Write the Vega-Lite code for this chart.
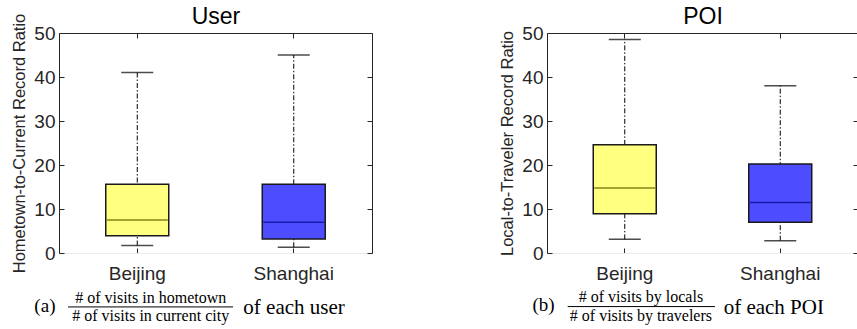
{
  "$schema": "https://vega.github.io/schema/vega-lite/v6.json",
  "padding": {"left": 11, "top": 5, "right": 0, "bottom": 0},
  "autosize": {"type": "pad"},
  "background": "white",
  "config": {
    "view": {"stroke": null},
    "font": "Liberation Sans",
    "axis": {"labelFont": "Liberation Sans", "titleFont": "Liberation Sans", "labelColor": "#262626", "titleColor": "#262626", "grid": false, "domainColor": "#262626", "tickColor": "#262626"}
  },
  "datasets": {
    "user": [
      {"city": "Beijing", "lower": 1.7, "q1": 3.9, "median": 7.5, "q3": 15.6, "upper": 41.0},
      {"city": "Shanghai", "lower": 1.3, "q1": 3.2, "median": 7.0, "q3": 15.6, "upper": 45.0}
    ],
    "poi": [
      {"city": "Beijing", "lower": 3.1, "q1": 8.9, "median": 14.8, "q3": 24.6, "upper": 48.5},
      {"city": "Shanghai", "lower": 2.8, "q1": 7.0, "median": 11.5, "q3": 20.2, "upper": 38.0}
    ]
  },
  "spacing": 126,
  "hconcat": [
    {
      "bounds": "flush",
      "spacing": 38,
      "vconcat": [
        {
          "width": 313, "height": 220,
          "data": {"name": "user"},
          "layer": [
            {
              "mark": {"type": "rule", "color": "black", "strokeWidth": 1, "strokeDash": [5, 2, 1.5, 2]},
              "encoding": {
                "x": {"field": "city", "type": "nominal", "scale": {"domain": ["Beijing", "Shanghai"], "paddingInner": 0, "paddingOuter": 0}, "axis": {"orient": "bottom", "title": null, "labelAngle": 0, "labelFontSize": 19, "tickSize": -5, "labelPadding": 16, "domainColor": "#ebebeb", "tickColor": "#262626"}},
                "y": {"field": "lower", "type": "quantitative", "scale": {"domain": [0, 50]}, "axis": {"orient": "left", "title": "Hometown-to-Current Record Ratio", "titleFontSize": 16.5, "titleFontWeight": "normal", "labelFontSize": 19, "tickSize": -5, "labelPadding": 9, "titlePadding": 6, "values": [0, 10, 20, 30, 40, 50], "domainColor": "#262626"}},
                "y2": {"field": "upper"}
              }
            },
            {
              "mark": {"type": "bar", "size": 63, "stroke": "#1a1a1a", "strokeWidth": 1.5},
              "encoding": {
                "x": {"field": "city", "type": "nominal", "axis": {"orient": "top", "title": "User", "titleFontSize": 23, "titleFontWeight": "normal", "titleColor": "black", "titleBaseline": "alphabetic", "titlePadding": 9.5, "labels": false, "tickSize": -5, "domainColor": "#262626"}},
                "y": {"field": "q1", "type": "quantitative", "axis": {"orient": "right", "title": null, "labels": false, "tickSize": -5, "values": [0, 10, 20, 30, 40, 50], "domainColor": "#262626"}},
                "y2": {"field": "q3"},
                "fill": {"field": "city", "type": "nominal", "scale": {"domain": ["Beijing", "Shanghai"], "range": ["#ffff80", "#4d4dff"]}, "legend": null}
              }
            },
            {
              "mark": {"type": "tick", "size": 32, "thickness": 1.5, "color": "black"},
              "encoding": {"x": {"field": "city", "type": "nominal", "axis": null}, "y": {"field": "lower", "type": "quantitative", "axis": null}}
            },
            {
              "mark": {"type": "tick", "size": 32, "thickness": 1.5, "color": "black"},
              "encoding": {"x": {"field": "city", "type": "nominal", "axis": null}, "y": {"field": "upper", "type": "quantitative", "axis": null}}
            },
            {
              "mark": {"type": "tick", "size": 61, "thickness": 1.5, "opacity": 1},
              "encoding": {
                "x": {"field": "city", "type": "nominal", "axis": null},
                "y": {"field": "median", "type": "quantitative", "axis": null},
                "color": {"field": "city", "type": "nominal", "scale": {"domain": ["Beijing", "Shanghai"], "range": ["#85851a", "#1a1aa8"]}, "legend": null}
              }
            }
          ],
          "resolve": {"axis": {"x": "independent", "y": "independent"}}
        },
        {
          "width": 313, "height": 36,
          "layer": [
            {
              "data": {"values": [{"t": "(a)"}]},
              "mark": {"type": "text", "font": "Liberation Serif", "fontSize": 19, "align": "center", "baseline": "middle", "color": "black"},
              "encoding": {
                "x": {"datum": -4.5, "type": "quantitative", "scale": {"domain": [0, 100]}, "axis": null},
                "y": {"datum": 17, "type": "quantitative", "scale": {"domain": [0, 36], "reverse": true}, "axis": null},
                "text": {"field": "t"}
              }
            },
            {
              "data": {"values": [{"t": "# of visits in hometown"}]},
              "mark": {"type": "text", "font": "Liberation Serif", "fontSize": 16, "align": "center", "baseline": "middle", "color": "black"},
              "encoding": {"x": {"datum": 29.3, "type": "quantitative"}, "y": {"datum": 7.5, "type": "quantitative"}, "text": {"field": "t"}}
            },
            {
              "data": {"values": [{"t": "# of visits in current city"}]},
              "mark": {"type": "text", "font": "Liberation Serif", "fontSize": 16, "align": "center", "baseline": "middle", "color": "black"},
              "encoding": {"x": {"datum": 29.3, "type": "quantitative"}, "y": {"datum": 27.5, "type": "quantitative"}, "text": {"field": "t"}}
            },
            {
              "data": {"values": [{"t": "bar"}]},
              "mark": {"type": "rule", "color": "black", "strokeWidth": 1},
              "encoding": {"x": {"datum": 2.9, "type": "quantitative"}, "x2": {"datum": 55.6}, "y": {"datum": 17.7, "type": "quantitative"}}
            },
            {
              "data": {"values": [{"t": "of each user"}]},
              "mark": {"type": "text", "font": "Liberation Serif", "fontSize": 21, "align": "left", "baseline": "alphabetic", "color": "black"},
              "encoding": {"x": {"datum": 58.9, "type": "quantitative"}, "y": {"datum": 25, "type": "quantitative"}, "text": {"field": "t"}}
            }
          ]
        }
      ]
    },
    {
      "bounds": "flush",
      "spacing": 38,
      "vconcat": [
        {
          "width": 311, "height": 220,
          "data": {"name": "poi"},
          "layer": [
            {
              "mark": {"type": "rule", "color": "black", "strokeWidth": 1, "strokeDash": [5, 2, 1.5, 2]},
              "encoding": {
                "x": {"field": "city", "type": "nominal", "scale": {"domain": ["Beijing", "Shanghai"], "paddingInner": 0, "paddingOuter": 0}, "axis": {"orient": "bottom", "title": null, "labelAngle": 0, "labelFontSize": 19, "tickSize": -5, "labelPadding": 16, "domainColor": "#ebebeb", "tickColor": "#262626"}},
                "y": {"field": "lower", "type": "quantitative", "scale": {"domain": [0, 50]}, "axis": {"orient": "left", "title": "Local-to-Traveler Record Ratio", "titleFontSize": 16.5, "titleFontWeight": "normal", "labelFontSize": 19, "tickSize": -5, "labelPadding": 9, "titlePadding": 6, "values": [0, 10, 20, 30, 40, 50], "domainColor": "#262626"}},
                "y2": {"field": "upper"}
              }
            },
            {
              "mark": {"type": "bar", "size": 63, "stroke": "#1a1a1a", "strokeWidth": 1.5},
              "encoding": {
                "x": {"field": "city", "type": "nominal", "axis": {"orient": "top", "title": "POI", "titleFontSize": 23, "titleFontWeight": "normal", "titleColor": "black", "titleBaseline": "alphabetic", "titlePadding": 9.5, "labels": false, "tickSize": -5, "domainColor": "#262626"}},
                "y": {"field": "q1", "type": "quantitative", "axis": {"orient": "right", "title": null, "labels": false, "tickSize": -5, "values": [0, 10, 20, 30, 40, 50], "domainColor": "#262626"}},
                "y2": {"field": "q3"},
                "fill": {"field": "city", "type": "nominal", "scale": {"domain": ["Beijing", "Shanghai"], "range": ["#ffff80", "#4d4dff"]}, "legend": null}
              }
            },
            {
              "mark": {"type": "tick", "size": 32, "thickness": 1.5, "color": "black"},
              "encoding": {"x": {"field": "city", "type": "nominal", "axis": null}, "y": {"field": "lower", "type": "quantitative", "axis": null}}
            },
            {
              "mark": {"type": "tick", "size": 32, "thickness": 1.5, "color": "black"},
              "encoding": {"x": {"field": "city", "type": "nominal", "axis": null}, "y": {"field": "upper", "type": "quantitative", "axis": null}}
            },
            {
              "mark": {"type": "tick", "size": 61, "thickness": 1.5, "opacity": 1},
              "encoding": {
                "x": {"field": "city", "type": "nominal", "axis": null},
                "y": {"field": "median", "type": "quantitative", "axis": null},
                "color": {"field": "city", "type": "nominal", "scale": {"domain": ["Beijing", "Shanghai"], "range": ["#85851a", "#1a1aa8"]}, "legend": null}
              }
            }
          ],
          "resolve": {"axis": {"x": "independent", "y": "independent"}}
        },
        {
          "width": 311, "height": 36,
          "layer": [
            {
              "data": {"values": [{"t": "(b)"}]},
              "mark": {"type": "text", "font": "Liberation Serif", "fontSize": 19, "align": "center", "baseline": "middle", "color": "black"},
              "encoding": {
                "x": {"datum": -1.1, "type": "quantitative", "scale": {"domain": [0, 100]}, "axis": null},
                "y": {"datum": 16, "type": "quantitative", "scale": {"domain": [0, 36], "reverse": true}, "axis": null},
                "text": {"field": "t"}
              }
            },
            {
              "data": {"values": [{"t": "# of visits by locals"}]},
              "mark": {"type": "text", "font": "Liberation Serif", "fontSize": 16, "align": "center", "baseline": "middle", "color": "black"},
              "encoding": {"x": {"datum": 30.2, "type": "quantitative"}, "y": {"datum": 7, "type": "quantitative"}, "text": {"field": "t"}}
            },
            {
              "data": {"values": [{"t": "# of visits by travelers"}]},
              "mark": {"type": "text", "font": "Liberation Serif", "fontSize": 16, "align": "center", "baseline": "middle", "color": "black"},
              "encoding": {"x": {"datum": 30.2, "type": "quantitative"}, "y": {"datum": 27.5, "type": "quantitative"}, "text": {"field": "t"}}
            },
            {
              "data": {"values": [{"t": "bar"}]},
              "mark": {"type": "rule", "color": "black", "strokeWidth": 1},
              "encoding": {"x": {"datum": 6.65, "type": "quantitative"}, "x2": {"datum": 54.0}, "y": {"datum": 17.3, "type": "quantitative"}}
            },
            {
              "data": {"values": [{"t": "of each POI"}]},
              "mark": {"type": "text", "font": "Liberation Serif", "fontSize": 21, "align": "left", "baseline": "alphabetic", "color": "black"},
              "encoding": {"x": {"datum": 56.8, "type": "quantitative"}, "y": {"datum": 25, "type": "quantitative"}, "text": {"field": "t"}}
            }
          ]
        }
      ]
    }
  ]
}
